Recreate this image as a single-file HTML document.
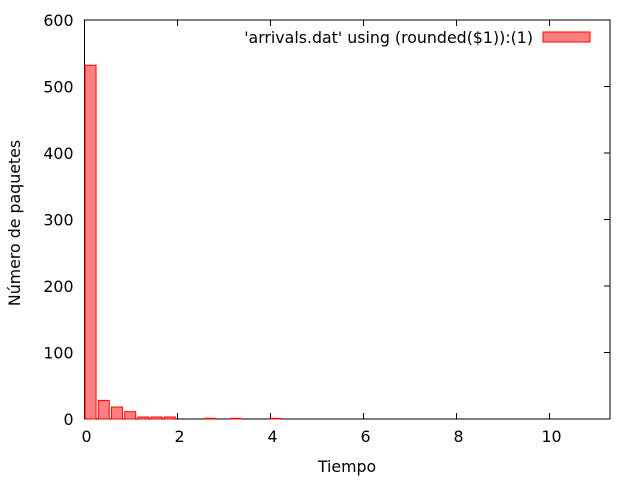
<!DOCTYPE html>
<html><head><meta charset="utf-8"><style>
body{margin:0;background:#fff;}
svg text{font-family:"DejaVu Sans","Liberation Sans",sans-serif;font-size:15.8px;fill:#000;}
</style></head><body>
<svg id="chart" width="640" height="480">
<rect x="84.5" y="20" width="525.5" height="399" fill="none" stroke="#000" stroke-width="1"/>
<g id="ticks"></g>
<g id="bars"></g>
<text x="17" y="220" transform="rotate(-90 20 220)" text-anchor="middle">Número de paquetes</text>
<text x="347" y="472" text-anchor="middle">Tiempo</text>
<g>
<text x="533" y="43" text-anchor="end">'arrivals.dat' using (rounded($1)):(1)</text>
<rect x="543" y="32" width="47" height="10" fill="#ff8080" stroke="#f00"/>
</g>
</svg>
<script>
const binCenters=[0.13,0.414,0.698,0.982,1.266,1.55,1.834,2.69,3.25,4.10];
const counts=[532,28,18,11,3,3,3,1,1,1];
const xTicks=[0,2,4,6,8,10];
const yTicks=[0,100,200,300,400,500,600];
const X0=84.5,X1=610,Y0=419,Y1=20,XMAX=11.3,YMAX=600;
const sx=v=>X0+v*(X1-X0)/XMAX;
const sy=v=>Y0-v*(Y0-Y1)/YMAX;
const NS='http://www.w3.org/2000/svg';
const tg=document.getElementById('ticks'),bg=document.getElementById('bars');
function mk(t,a,p){const e=document.createElementNS(NS,t);for(const k in a)e.setAttribute(k,a[k]);p.appendChild(e);return e;}
xTicks.forEach(v=>{
 const x=sx(v);
 if(v>0){mk('line',{x1:x,x2:x,y1:Y0,y2:Y0-6,stroke:'#000'},tg);mk('line',{x1:x,x2:x,y1:Y1,y2:Y1+6,stroke:'#000'},tg);}
 const t=mk('text',{x:x+2,y:Y0+23,'text-anchor':'middle'},tg);t.textContent=v;
 
 
});
yTicks.forEach(v=>{
 const y=sy(v);
 if(v>0&&v<600){mk('line',{x1:X0,x2:X0+6,y1:y,y2:y,stroke:'#000'},tg);mk('line',{x1:X1,x2:X1-6,y1:y,y2:y,stroke:'#000'},tg);}
 const t=mk('text',{x:X0-11,y:y+6,'text-anchor':'end'},tg);t.textContent=v;
 
 
});
const bw=0.237;
binCenters.forEach((c,i)=>{
 const xl=Math.max(sx(c-bw/2),X0),xr=sx(c+bw/2);
 const r=mk('rect',{x:xl,y:sy(counts[i]),width:xr-xl,height:Y0-sy(counts[i]),fill:'#ff8080',stroke:'#f00','stroke-width':1},bg);
 
 
});
</script>
</body></html>
